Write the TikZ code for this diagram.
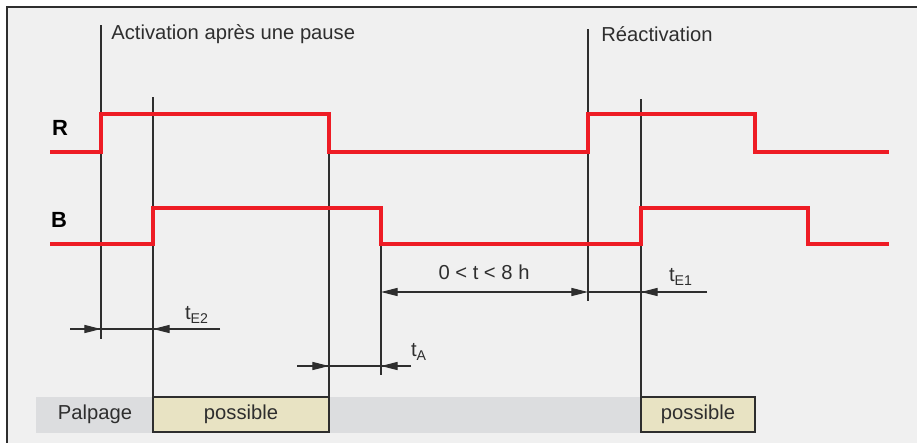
\documentclass[tikz,border=0pt]{standalone}
\usepackage{fontspec}
\setmainfont{Liberation Sans}
\usetikzlibrary{arrows.meta}
\definecolor{sigred}{HTML}{EE1C25}
\definecolor{bgfill}{HTML}{F0F0F0}
\definecolor{band}{HTML}{DCDDDF}
\definecolor{beige}{HTML}{E8E3C3}
\definecolor{ink}{HTML}{2E2E2E}
\begin{document}
\begin{tikzpicture}[
		x = 0.02cm, y = -0.02cm,
		sig/.style   = {draw=sigred, line width=2.3pt},
		gl/.style    = {draw=ink, line width=0.6pt},
		tip/.style   = {gl, -{Triangle[length=9.5pt, width=4.6pt]}},
		txt/.style   = {text=ink, font=\fontsize{11.5}{13}\selectfont, inner sep=0pt},
		sg/.style    = {font=\fontsize{12.5}{14}\bfseries\selectfont, inner sep=0pt},
		pbox/.style  = {draw=ink, fill=beige, line width=0.6pt, minimum height=0.7cm,
		                text=ink, font=\fontsize{11.5}{13}\selectfont, inner sep=0pt}
		]
		\useasboundingbox (0,0) rectangle (917,443);
		\fill[bgfill] (7,7) rectangle (917,443);
		\draw[ink, line width=1.2pt] (7,443) -- (7,7) -- (917,7);
		
		% Palpage band
		\fill[band] (36,397) rectangle (641,433);
		\node[txt]  (palp) at (95,414) {Palpage};
		\node[pbox, minimum width=3.52cm] (pos1) at (241,414.5) {possible};
		\node[pbox, minimum width=2.28cm] (pos2) at (698,414.5) {possible};
		
		% reference lines
		\coordinate (v1t) at (101,25);   \coordinate (v1b) at (101,339);
		\coordinate (v2t) at (153,97);   \coordinate (v2b) at (153,397);
		\coordinate (v3t) at (329,152);  \coordinate (v3b) at (329,397);
		\coordinate (v4t) at (381,244);  \coordinate (v4b) at (381,375);
		\coordinate (v5t) at (588,29);   \coordinate (v5b) at (588,301);
		\coordinate (v6t) at (641,99);   \coordinate (v6b) at (641,397);
		\draw[gl] (v1t)--(v1b)  (v2t)--(v2b)  (v3t)--(v3b)
		(v4t)--(v4b)  (v5t)--(v5b)  (v6t)--(v6b);
		
		\node[txt, anchor=west] (act)  at (111,34) {Activation après une pause};
		\node[txt, anchor=west] (ract) at (601,34) {Réactivation};
		
		% signals
		\node[sg] (lR) at (60,128) {R};
		\node[sg] (lB) at (59,220) {B};
		\draw[sig] (50,152) -| (101,114) -| (329,152) -| (588,114) -| (755,152) -- (889,152);
		\draw[sig] (50,244) -| (153,208) -| (381,244) -| (641,208) -| (808,244) -- (889,244);
		
		% t_E2
		\coordinate (e2a) at (70,329);  \coordinate (e2b) at (101,329);
		\coordinate (e2c) at (153,329); \coordinate (e2d) at (220,329);
		\draw[gl]  (e2a) -- (e2d);
		\draw[tip] (e2a) -- (e2b);
		\draw[tip] (e2d) -- (e2c);
		\node[txt] (tE2) at (197,315) {t\textsubscript{E2}};
		
		% t_A
		\coordinate (aa) at (297,366);  \coordinate (ab) at (329,366);
		\coordinate (ac) at (381,366);  \coordinate (ad) at (411,366);
		\draw[gl]  (aa) -- (ad);
		\draw[tip] (aa) -- (ab);
		\draw[tip] (ad) -- (ac);
		\node[txt] (tA) at (419,352) {t\textsubscript{A}};
		
		% pause and t_E1
		\coordinate (pa) at (381,292);  \coordinate (pb) at (588,292);
		\coordinate (pc) at (641,292);  \coordinate (pd) at (707,292);
		\draw[gl, {Triangle[length=9.5pt, width=4.6pt]}-{Triangle[length=9.5pt, width=4.6pt]}] (pa) -- (pb);
		\draw[gl]  (pb) -- (pd);
		\draw[tip] (pd) -- (pc);
		\node[txt] (tt)  at (484,272) {0 < t < 8 h};
		\node[txt] (tE1) at (681,277) {t\textsubscript{E1}};
	\end{tikzpicture}
\end{document}
